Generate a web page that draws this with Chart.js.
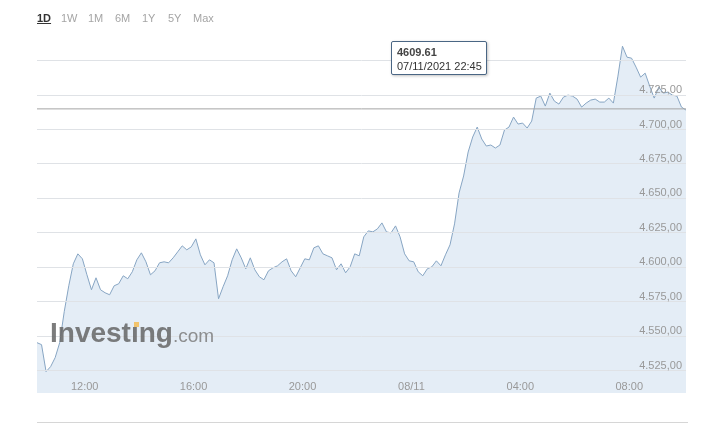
<!DOCTYPE html>
<html>
<head>
<meta charset="utf-8">
<script src="https://cdn.jsdelivr.net/npm/chart.js@4.4.1/dist/chart.umd.min.js"></script>
<style>
  body { margin: 0; background: #fff; font-family: Arial, "Liberation Sans", sans-serif; }
  .wrap { position: relative; width: 706px; height: 431px; overflow: hidden; }
  canvas { position: absolute; left: 0; top: 0; }
  .periods { position: absolute; left: 37px; top: 12px; font-size: 11px; color: #a5a5a5; }
  .periods span { position: absolute; top: 0; white-space: nowrap; }
  .periods .on { color: #333; font-weight: bold; text-decoration: underline; }
  .tip {
    position: absolute; left: 391px; top: 41px; width: 94px; height: 32px;
    background: #fff; border: 1px solid #4a6684; border-radius: 2px;
    box-shadow: 1px 1px 3px rgba(0,0,0,0.25);
    font-size: 11px; color: #333; line-height: 14px;
  }
  .tip div { padding-left: 5px; }
  .tip .v { padding-top: 3px; font-weight: bold; color: #444; }
  .mark { position: absolute; left: 50px; top: 317px; white-space: nowrap; opacity: 0.85; }
  .mark .big { font-size: 28px; font-weight: bold; color: #666; letter-spacing: 0; }
  .mark .com { font-size: 19px; color: #7d7d7d; }
  .dot { position: absolute; left: 134px; top: 322px; width: 5px; height: 5px; background: #f2c46d; }
  .base { position: absolute; left: 37px; top: 422px; width: 651px; height: 1px; background: #d6d6d6; }
</style>
</head>
<body>
<div class="wrap">
  <canvas id="chart" width="706" height="431"></canvas>
  <div class="periods">
    <span class="on" style="left:0">1D</span>
    <span style="left:24px">1W</span>
    <span style="left:51px">1M</span>
    <span style="left:78px">6M</span>
    <span style="left:105px">1Y</span>
    <span style="left:131px">5Y</span>
    <span style="left:156px">Max</span>
  </div>
  <div class="mark"><span class="big">Invest&#305;ng</span><span class="com">.com</span></div>
  <div class="dot"></div>
  <div class="tip"><div class="v">4609.61</div><div>07/11/2021 22:45</div></div>
  <div class="base"></div>
</div>
<script>
// 1D intraday, one point every 10 minutes starting 07/11 10:15
const startMinutes = 10 * 60 + 15;
const stepMinutes = 10;

const prices = [
  4545.29, 4543.84, 4524.28, 4527.90, 4534.42, 4545.29, 4567.75, 4586.59, 4602.54, 4609.78,
  4606.16, 4594.57, 4583.70, 4592.39, 4583.70, 4581.52, 4580.07, 4586.59, 4588.04, 4593.84,
  4591.67, 4596.74, 4605.43, 4610.51, 4603.99, 4594.57, 4597.46, 4603.26, 4603.99, 4603.26,
  4606.88, 4611.23, 4615.58, 4612.68, 4614.86, 4620.65, 4609.06, 4601.81, 4605.43, 4603.26,
  4577.17, 4585.87, 4593.84, 4605.43, 4613.41, 4606.88, 4598.91, 4606.88, 4598.19, 4593.12,
  4590.94, 4597.46, 4599.64, 4601.09, 4603.99, 4606.16, 4597.46, 4593.12, 4599.64, 4606.16,
  4605.43, 4614.13, 4615.58, 4609.78, 4608.33, 4606.88, 4598.19, 4602.54, 4596.01, 4600.36,
  4609.78, 4608.33, 4622.10, 4626.45, 4625.72, 4627.90, 4632.25, 4625.72, 4625.00, 4630.07,
  4622.10, 4609.78, 4604.71, 4603.99, 4596.74, 4593.84, 4598.91, 4600.36, 4604.71, 4601.09,
  4609.06, 4616.30, 4631.52, 4653.99, 4666.30, 4683.70, 4694.57, 4701.81, 4693.12, 4688.04,
  4688.77, 4686.59, 4688.77, 4699.64, 4701.81, 4709.06, 4703.99, 4704.71, 4701.09, 4706.16,
  4722.83, 4724.28, 4717.03, 4726.45, 4720.65, 4718.48, 4723.55, 4725.00, 4724.28, 4722.10,
  4716.30, 4719.20, 4721.38, 4722.10, 4719.93, 4719.93, 4722.83, 4719.20, 4738.77, 4760.50,
  4752.54, 4751.81, 4745.29, 4738.04, 4740.94, 4731.52, 4722.83, 4730.80, 4726.45, 4727.17,
  4725.00, 4724.28, 4716.30, 4714.13
];

const lastPrice = 4715.0;

const xTickHours = [12, 16, 20, 24, 28, 32];
const xTickLabels = ['12:00', '16:00', '20:00', '08/11', '04:00', '08:00'];

const yTickValues = [4525, 4550, 4575, 4600, 4625, 4650, 4675, 4700, 4725, 4750];
const yTickLabels = ['4.525,00', '4.550,00', '4.575,00', '4.600,00', '4.625,00',
  '4.650,00', '4.675,00', '4.700,00', '4.725,00', ''];

const points = prices.map((p, i) => ({ x: (startMinutes + i * stepMinutes) / 60, y: p }));
const xMin = points[0].x;
const xMax = points[points.length - 1].x;

const fillColor = '#e4edf6';
const tickFont = { family: 'Arial, "Liberation Sans", sans-serif', size: 11 };

new Chart(document.getElementById('chart'), {
  type: 'line',
  data: {
    datasets: [
      {
        data: [{ x: xMin, y: lastPrice }, { x: xMax, y: lastPrice }],
        borderColor: '#a4a4a4',
        borderWidth: 1,
        pointRadius: 0,
        fill: false
      },
      {
        data: points,
        borderColor: '#87a5c3',
        borderWidth: 1,
        backgroundColor: fillColor,
        pointRadius: 0,
        tension: 0,
        fill: 'start'
      }
    ]
  },
  options: {
    responsive: false,
    animation: false,
    layout: { padding: { left: 37, right: 20, top: 40, bottom: 38 } },
    plugins: { legend: { display: false }, tooltip: { enabled: false } },
    scales: {
      x: {
        type: 'linear',
        min: xMin,
        max: xMax,
        backgroundColor: fillColor,
        afterBuildTicks: axis => { axis.ticks = xTickHours.map(v => ({ value: v })); },
        afterFit: axis => { axis.height = 21; },
        grid: { display: false, drawTicks: false },
        border: { display: false },
        ticks: {
          padding: 8,
          maxRotation: 0,
          autoSkip: false,
          color: '#999',
          font: tickFont,
          callback: (v) => xTickLabels[xTickHours.indexOf(v)]
        }
      },
      y: {
        position: 'right',
        min: 4524,
        max: 4765,
        afterBuildTicks: axis => { axis.ticks = yTickValues.map(v => ({ value: v })); },
        grid: { z: 1, color: '#dfe2e6', drawTicks: false },
        border: { display: false },
        ticks: {
          z: 1,
          mirror: true,
          padding: -4,
          labelOffset: -5,
          color: '#999',
          font: tickFont,
          callback: (v) => yTickLabels[yTickValues.indexOf(v)]
        }
      }
    }
  }
});
</script>
</body>
</html>
